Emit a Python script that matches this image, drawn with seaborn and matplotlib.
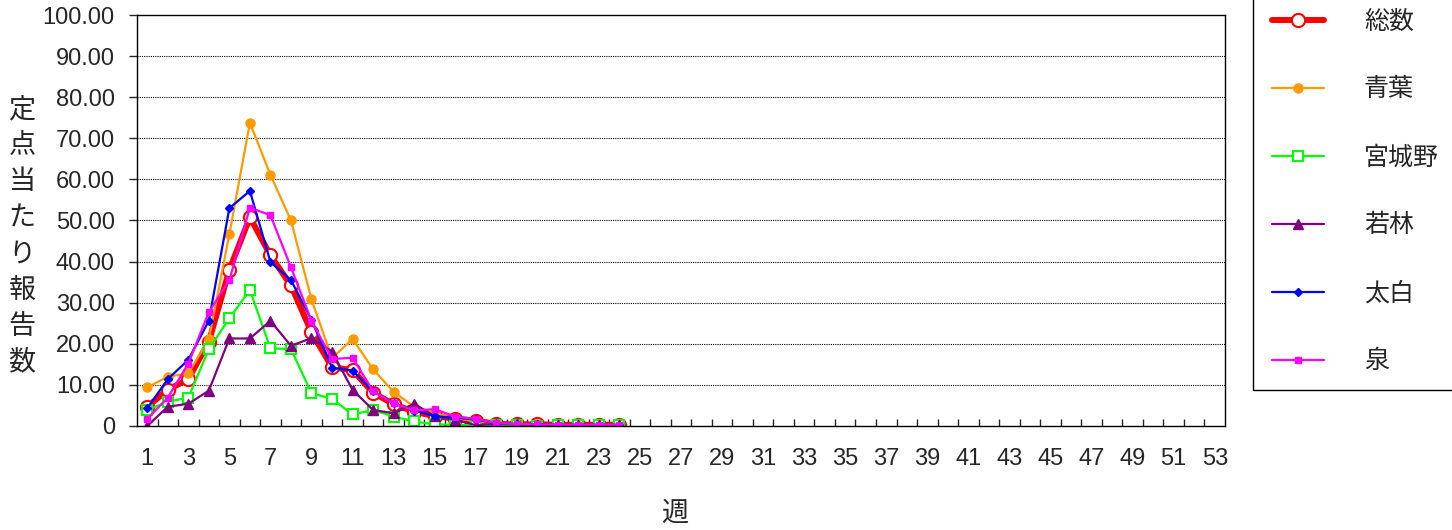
import numpy as np
import pandas as pd
import seaborn as sns
import matplotlib
matplotlib.use("Agg")
import matplotlib.pyplot as plt
from matplotlib.patches import Rectangle

weeks = list(range(1, 25))
total = [4.7, 8.8, 11.4, 20.5, 38.0, 50.8, 41.5, 34.2, 22.8, 14.3, 13.6, 8.1,
         5.3, 3.5, 2.4, 1.8, 1.3, 0.5, 0.4, 0.4, 0.3, 0.3, 0.3, 0.3]
aoba = [9.4, 12.0, 12.8, 21.1, 46.7, 73.8, 61.1, 50.0, 30.8, 16.5, 21.2, 13.8,
        8.3, 4.7, 3.1, 1.8, 1.2, 0.6, 0.5, 0.4, 0.3, 0.3, 0.3, 0.3]
miyagino = [3.9, 5.9, 6.9, 18.7, 26.2, 33.1, 18.9, 18.7, 8.0, 6.6, 2.8, 3.9,
            2.3, 1.1, 0.4, 0.3, 0.1, 0.2, 0.2, 0.1, 0.2, 0.2, 0.2, 0.2]
wakabayashi = [0.0, 4.7, 5.4, 8.6, 21.3, 21.3, 25.6, 19.5, 21.4, 18.1, 8.8, 3.9,
               3.1, 5.4, 2.4, 1.5, 0.2, 0.5, 0.4, 0.3, 0.2, 0.2, 0.2, 0.2]
taihaku = [4.3, 11.4, 16.1, 25.6, 53.0, 57.2, 39.9, 35.5, 25.8, 14.2, 13.5, 8.4,
           5.5, 3.7, 2.4, 2.0, 1.6, 0.6, 0.5, 0.4, 0.3, 0.3, 0.3, 0.3]
izumi = [1.7, 6.9, 15.2, 27.7, 35.5, 53.1, 51.3, 38.6, 25.6, 16.3, 16.6, 8.5,
         5.5, 3.8, 4.1, 2.3, 1.7, 0.7, 0.5, 0.4, 0.3, 0.3, 0.3, 0.3]

series_names = ["総数", "青葉", "宮城野", "若林", "太白", "泉"]
series_values = [total, aoba, miyagino, wakabayashi, taihaku, izumi]

# line styles per series
styles = {
    "総数": dict(color="#ff0000", linewidth=4.3, marker="o", markersize=9.5,
               markerfacecolor="white", markeredgecolor="#ff0000", markeredgewidth=1.5),
    "青葉": dict(color="#ff9900", linewidth=1.6, marker="o", markersize=6.5,
               markerfacecolor="#ff9900", markeredgecolor="#ff9900", markeredgewidth=1),
    "宮城野": dict(color="#00ff00", linewidth=1.6, marker="s", markersize=7.5,
                markerfacecolor="white", markeredgecolor="#00ff00", markeredgewidth=1.5),
    "若林": dict(color="#800080", linewidth=1.6, marker="^", markersize=6.5,
               markerfacecolor="#800080", markeredgecolor="#800080", markeredgewidth=1),
    "太白": dict(color="#0000ff", linewidth=1.6, marker="D", markersize=4.5,
               markerfacecolor="#0000ff", markeredgecolor="#0000ff", markeredgewidth=1),
    "泉": dict(color="#ff00ff", linewidth=1.6, marker="s", markersize=4.5,
              markerfacecolor="#ff00ff", markeredgecolor="#ff00ff", markeredgewidth=1),
}

df = pd.DataFrame({"week": weeks * len(series_names),
                   "value": sum(series_values, []),
                   "series": np.repeat(series_names, len(weeks))})

sns.set_style("white")
plt.rcParams["font.family"] = ["Liberation Sans", "Noto Sans CJK JP", "DejaVu Sans"]

fig = plt.figure(figsize=(14.52, 5.30), dpi=100)
ax = fig.add_axes([137 / 1452, 1 - 426 / 530, (1225 - 137) / 1452, (426 - 15) / 530])

for name in series_names:
    sub = df[df["series"] == name]
    sns.lineplot(data=sub, x="week", y="value", ax=ax, label=name, **styles[name])

ax.set_xlim(0.5, 53.5)
ax.set_ylim(0, 100)
ax.set_xticks(range(1, 54, 2))
ax.set_xticks(np.arange(1.5, 53.5, 1), minor=True)
ax.tick_params(axis="x", which="major", length=0, pad=16, labelsize=17)
ax.tick_params(axis="x", which="minor", length=5, direction="in", width=1, bottom=True)
ax.set_yticks(range(0, 101, 10))
ax.set_yticklabels(["0"] + [f"{v:.2f}" for v in range(10, 101, 10)])
ax.tick_params(axis="y", length=6, direction="out", width=1, pad=10, labelsize=17, left=True)
for v in range(10, 100, 10):
    ax.axhline(v, color="black", linestyle=(0, (1, 1)), linewidth=0.8, zorder=0)
for sp in ax.spines.values():
    sp.set_color("black")
    sp.set_linewidth(1)
ax.set_xlabel("")
ax.set_ylabel("")

cjk = ["Noto Sans CJK JP", "DejaVu Sans"]
fig.text(22 / 1452, 1 - 236 / 530, "\n".join("定点当たり報告数"), family=cjk,
         fontsize=19.5, ha="center", va="center", linespacing=1.43)
fig.text(675 / 1452, 1 - 513 / 530, "週", family=cjk, fontsize=19.5,
         ha="center", va="center")

handles, labels = ax.get_legend_handles_labels()
ax.get_legend().remove()
fig.patches.append(Rectangle((1253 / 1452, 1 - 390 / 530), 0.2, 0.8,
                             transform=fig.transFigure, fill=False,
                             edgecolor="black", linewidth=1))
fig.legend(handles, labels, loc="upper left", bbox_to_anchor=(1249 / 1452, 1 + 14 / 530),
           frameon=False, prop={"family": cjk, "size": 18}, handlelength=2.1,
           handletextpad=1.6, labelspacing=1.68)

fig.savefig("out.png", dpi=100)
